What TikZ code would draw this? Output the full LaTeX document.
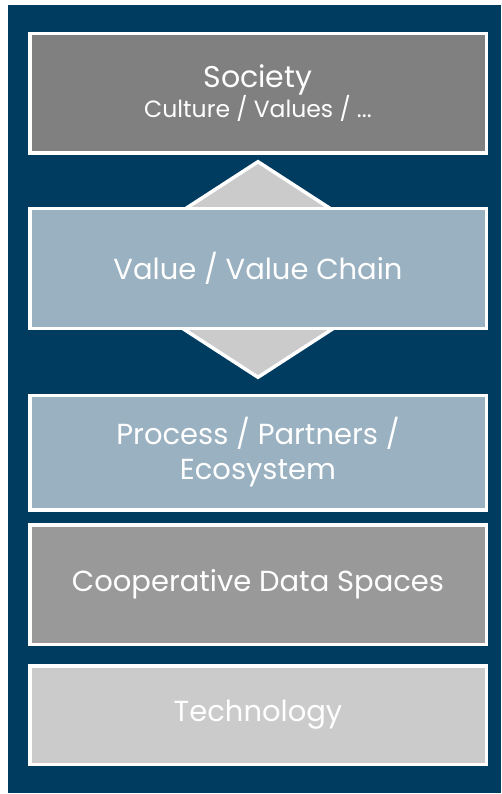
\documentclass[tikz,border=0pt]{standalone}
\usepackage{fontspec}
\setmainfont{Poppins}
\usepackage{xcolor}
\usetikzlibrary{shapes.geometric}
\definecolor{navy}{HTML}{003C60}
\definecolor{darkgrey}{HTML}{808080}
\definecolor{paleblue}{HTML}{9AB1C1}
\definecolor{midgrey}{HTML}{999999}
\definecolor{lightgrey}{HTML}{CBCBCB}

\begin{document}
\begin{tikzpicture}[x=1pt, y=-1pt, line width=3.5pt,
    layer/.style={rectangle, draw=white, minimum width=456.5pt, inner sep=0pt,
        text=white, align=center, font=\fontsize{29}{35}\selectfont}]
    \fill[white] (0,0) rectangle (501,794);
    \fill[navy] (8,5) rectangle (501,793);
    \node[diamond, draw=white, fill=lightgrey, inner sep=0pt, minimum width=334pt, minimum height=217pt] (link) at (258,269.5) {};
    \node[layer, fill=darkgrey, minimum height=119.5pt] (society) at (258,93.5) {{\fontsize{30}{34}\selectfont Society}\\[-5pt]{\fontsize{23.5}{28}\selectfont Culture / Values / ...}};
    \node[layer, fill=paleblue, minimum height=119.5pt] (value) at (258,268.5) {Value / Value Chain};
    \node[layer, fill=paleblue, minimum height=114.5pt] (process) at (258,452.5) {Process / Partners /\\Ecosystem};
    \node[layer, fill=midgrey, minimum height=119.5pt] (data) at (258,584.5) {Cooperative Data Spaces};
    \node[layer, fill=lightgrey, minimum height=98.5pt] (tech) at (258,715) {\raisebox{-2pt}{Technology}};
\end{tikzpicture}
\end{document}
